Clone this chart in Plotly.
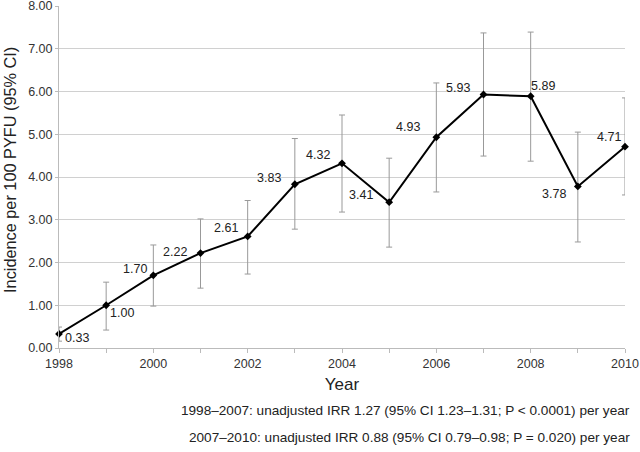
import plotly.graph_objects as go

years = [1998, 1999, 2000, 2001, 2002, 2003, 2004, 2005, 2006, 2007, 2008, 2009, 2010]
incidence = [0.33, 1.00, 1.70, 2.22, 2.61, 3.83, 4.32, 3.41, 4.93, 5.93, 5.89, 3.78, 4.71]
ci_upper = [0.49, 1.54, 2.41, 3.02, 3.45, 4.90, 5.45, 4.44, 6.20, 7.37, 7.39, 5.05, 5.85]
ci_lower = [0.16, 0.42, 0.98, 1.40, 1.73, 2.78, 3.18, 2.36, 3.65, 4.49, 4.37, 2.48, 3.58]
label_texts = [f"{v:.2f}" for v in incidence]
# label offsets in pixels (dx, dy) relative to each point
label_offsets = [(18, -4), (16, -8), (-18, 6), (-26, 1), (-22, 8), (-26, 6), (-24, 8),
                 (-28, 7), (-28, 10), (-26, 6), (12, 10), (-24, -8), (-16, 10)]

y_title = "Incidence per 100 PYFU (95% CI)"
x_title = "Year"
footnotes = [
    "1998–2007: unadjusted IRR 1.27 (95% CI 1.23–1.31; P < 0.0001) per year",
    "2007–2010: unadjusted IRR 0.88 (95% CI 0.79–0.98; P = 0.020) per year",
]

err_plus = [u - v for u, v in zip(ci_upper, incidence)]
err_minus = [v - l for v, l in zip(incidence, ci_lower)]

FONT = "Liberation Sans, Arial"

fig = go.Figure()
fig.add_trace(go.Scatter(
    x=years, y=incidence, mode="lines+markers",
    line=dict(color="black", width=2),
    marker=dict(color="black", size=6, symbol="diamond"),
    error_y=dict(type="data", symmetric=False, array=err_plus, arrayminus=err_minus,
                 color="#999999", thickness=1, width=3),
    cliponaxis=False,
    showlegend=False,
))

annotations = []
for x, y, t, (dx, dy) in zip(years, incidence, label_texts, label_offsets):
    annotations.append(dict(x=x, y=y, text=t, showarrow=False, xshift=dx, yshift=dy,
                            font=dict(size=12.5, color="#222222", family=FONT)))
for i, yy in enumerate([-0.184, -0.262]):
    annotations.append(dict(x=1.0124, y=yy, xref="paper", yref="paper", text=footnotes[i],
                            showarrow=False, xanchor="right", yanchor="middle",
                            font=dict(size=13.6, color="#222222", family=FONT)))
annotations.append(dict(x=-0.087, y=0.52, xref="paper", yref="paper", text=y_title,
                        textangle=-90, showarrow=False, xanchor="center", yanchor="middle",
                        font=dict(size=16.3, color="#222222", family=FONT)))

fig.update_layout(
    width=640, height=452,
    margin=dict(l=59, r=15, t=6, b=104, autoexpand=False),
    paper_bgcolor="white", plot_bgcolor="white",
    font=dict(family=FONT, color="#222222"),
    annotations=annotations,
    xaxis=dict(range=[1998, 2010], tickvals=[1998, 2000, 2002, 2004, 2006, 2008, 2010],
               automargin=False, ticklabeloverflow="allow",
               showgrid=False, zeroline=False, showline=True, linecolor="#bbbbbb",
               ticks="outside", ticklen=4, tickcolor="#bbbbbb",
               minor=dict(tickvals=[1999, 2001, 2003, 2005, 2007, 2009], ticks="outside", ticklen=4, tickcolor="#bbbbbb"),
               tickfont=dict(size=12.5, color="#333333"),
               title=dict(text=x_title, font=dict(size=17), standoff=8)),
    yaxis=dict(range=[0, 8], dtick=1, tickformat=".2f",
               automargin=False, ticklabeloverflow="allow",
               showgrid=True, gridcolor="#d0d0d0", gridwidth=1,
               zeroline=False, showline=True, linecolor="#bbbbbb",
               ticks="outside", ticklen=3, tickcolor="#bbbbbb",
               tickfont=dict(size=12.5, color="#333333")),
)

fig.write_html("out.html", config={"displayModeBar": False},
               post_script="document.body.style.margin='0';")
